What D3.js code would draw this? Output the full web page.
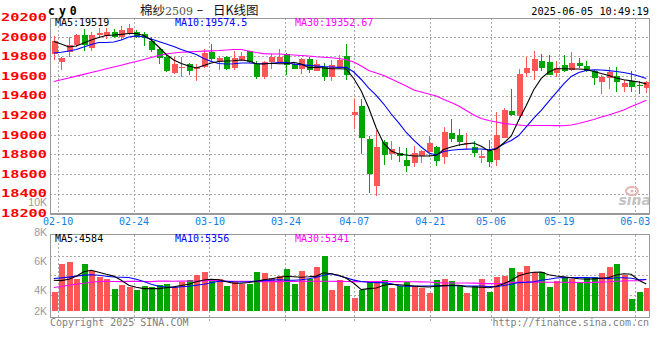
<!DOCTYPE html>
<html>
<head>
<meta charset="utf-8">
<script src="https://cdn.jsdelivr.net/npm/d3@7"></script>
<style>
body { margin: 0; background: #fff; }
svg { display: block; }
</style>
</head>
<body>
<div id="chart"></div>
<script>
// trading days shown on the chart
var dates = ["02-07","02-10","02-11","02-12","02-13","02-14","02-17","02-18","02-19","02-20","02-21",
  "02-24","02-25","02-26","02-27","02-28","03-03","03-04","03-05","03-06","03-07",
  "03-10","03-11","03-12","03-13","03-14","03-17","03-18","03-19","03-20","03-21",
  "03-24","03-25","03-26","03-27","03-28","03-31","04-01","04-02","04-03",
  "04-07","04-08","04-09","04-10","04-11","04-14","04-15","04-16","04-17","04-18",
  "04-21","04-22","04-23","04-24","04-25","04-28","04-29","04-30",
  "05-06","05-07","05-08","05-09","05-12","05-13","05-14","05-15","05-16",
  "05-19","05-20","05-21","05-22","05-23","05-26","05-27","05-28","05-29","05-30",
  "06-03","06-04","06-05"];

var openP = [19820,19740,19845,19912,20020,19885,20014,20010,20050,19995,
  20035,20045,20030,19958,19870,19790,19627,19682,19725,19675,
  19695,19844,19750,19790,19682,19760,19851,19725,19588,19740,
  19742,19827,19725,19675,19776,19655,19688,19590,19682,19806,
  19205,19294,18958,18482,18927,18800,18815,18747,18717,18785,
  18825,18873,18777,19015,18998,18905,18873,18764,18835,18743,
  18971,19243,19192,19633,19654,19755,19742,19630,19715,19664,
  19732,19698,19647,19540,19580,19600,19490,19552,19511,19480];

var highP = [20005,19790,19998,20030,20078,20052,20090,20090,20075,20110,
  20125,20070,20050,19995,19880,19815,19796,19790,19735,19720,
  19870,19926,19800,19800,19850,19840,19855,19755,19755,19827,
  19878,19830,19740,19785,19790,19760,19732,19766,19810,19929,
  19365,19365,18985,19052,18945,18940,18873,18866,18886,18850,
  18988,18885,19077,19161,19059,19016,18940,18845,18947,19236,
  19277,19467,19671,19790,19857,19824,19813,19755,19810,19844,
  19783,19750,19660,19613,19690,19688,19560,19647,19545,19552];

var lowP = [19765,19665,19795,19895,19850,19858,19994,19975,19983,19970,
  20015,19985,19910,19840,19725,19640,19620,19585,19612,19552,
  19680,19742,19665,19665,19665,19755,19735,19570,19570,19670,
  19735,19612,19670,19620,19630,19650,19552,19552,19675,19562,
  19062,18805,18408,18374,18696,18747,18723,18621,18669,18716,
  18777,18686,18703,18930,18886,18853,18771,18716,18676,18683,
  18965,19195,19151,19592,19562,19647,19610,19589,19640,19647,
  19681,19640,19505,19419,19470,19436,19436,19436,19416,19426];

var closeP = [19960,19785,19912,20020,19912,20018,20038,20052,20000,20070,
  20090,19995,19982,19865,19782,19655,19722,19690,19655,19690,
  19835,19776,19782,19675,19783,19806,19740,19590,19740,19790,
  19793,19715,19675,19776,19665,19722,19590,19708,19766,19613,
  19230,18968,18601,18876,18792,18856,18782,18686,18812,18840,
  18914,18733,19033,18954,18930,18914,18812,18784,18726,18998,
  19253,19202,19620,19678,19776,19681,19613,19681,19654,19732,
  19698,19647,19580,19585,19640,19540,19525,19490,19500,19540];

// moving averages as drawn on the chart
var ma5 = [19951,19926,19895,19905,19936,19966,19992,20012,20017,20024,
  20033,20033,20012,19966,19895,19819,19763,19727,19701,19681,
  19707,19732,19747,19752,19755,19763,19752,19724,19722,19730,
  19724,19725,19740,19722,19685,19688,19681,19674,19674,19671,
  19574,19447,19273,19070,18912,18835,18805,18795,18784,18784,
  18784,18791,18850,18876,18896,18908,18917,18883,18835,18855,
  18917,18988,19151,19300,19460,19575,19640,19674,19674,19671,
  19671,19666,19645,19625,19605,19580,19562,19550,19538,19519];

var ma10 = [19834,19841,19854,19869,19895,19921,19941,19941,19946,19966,
  19997,20009,19997,19976,19951,19926,19900,19869,19844,19819,
  19778,19747,19727,19722,19725,19732,19732,19727,19725,19730,
  19737,19739,19721,19716,19708,19701,19695,19691,19688,19688,
  19640,19564,19477,19401,19314,19212,19121,19024,18945,18876,
  18815,18795,18830,18843,18850,18854,18856,18856,18848,18861,
  18907,18943,18993,19080,19170,19250,19340,19430,19520,19595,
  19635,19656,19664,19661,19654,19645,19635,19620,19600,19574.5];

var ma30 = [19544,19561,19580,19598,19616,19635,19654,19673,19691,19710,
  19729,19747,19767,19788,19808,19824,19834,19841,19846,19850,
  19853,19856,19859,19864,19869,19869,19854,19839,19828,19825,
  19824,19819,19813,19808,19803,19796,19791,19785,19778,19765,
  19742,19701,19655,19630,19604,19569,19533,19498,19457,19436,
  19416,19396,19360,19329,19294,19248,19202,19166,19146,19131,
  19117,19108,19100,19093,19095,19095,19095,19094,19093,19100,
  19115,19136,19156,19182,19202,19227,19253,19289,19319,19352.67];

var volume = [3230,7990,8280,5390,7990,6750,5780,5390,3740,4370,
  4080,3570,4200,4030,4370,4590,4080,4980,5220,6070,
  6580,5050,5440,4200,4930,4640,4540,6580,6410,5610,
  5950,7090,4590,6750,5390,7430,9350,3570,5220,4200,
  2210,3570,4880,4880,5220,3910,4300,4930,4250,3910,
  3060,5220,5440,5050,4370,3060,4300,5440,3230,5780,
  5950,7260,6630,7650,6630,6630,4080,5100,5780,5490,
  4930,5560,5780,6460,7480,7990,6070,1990,3180,3860];

var volMa5 = [5220,5170,5390,5900,6660,6920,6580,6240,5930,5220,
  4370,4030,3810,3810,3810,3940,4110,4320,4540,4960,
  5270,5390,5300,4960,4710,4710,4830,5050,5300,5470,
  5680,5900,5810,5730,5810,5930,6490,6320,6070,5560,
  4710,3640,3810,3910,4370,4540,4470,4370,4250,4150,
  4080,4200,4320,4370,4370,4110,4080,4030,3940,4200,
  4620,5220,5980,6360,6580,6630,6150,5950,5810,5640,
  5470,5390,5460,5560,5680,6120,6320,6240,5220,4584];

var volMa10 = [5530,5630,5760,5930,6100,6150,6070,5900,5780,5730,
  5680,5390,5000,4540,4200,4060,4010,4110,4200,4370,
  4540,4790,5050,5050,4960,4930,4960,5080,5170,5250,
  5320,5250,5220,5300,5470,5730,6070,6320,5980,5640,
  5250,5020,4880,4830,4790,4620,4280,4200,4200,4230,
  4250,4270,4300,4320,4280,4250,4250,4250,4150,4150,
  4340,4540,4830,4880,4960,5220,5390,5610,5680,5680,
  5680,5680,5630,5540,5510,5640,5640,5560,5300,5356];

var volMa30 = [4000,4170,4370,4540,4710,4880,5000,5050,5020,5000,
  5030,5050,5020,5000,5080,5070,5050,5080,5100,5100,
  5120,5190,5170,5080,5050,5050,5030,5000,5000,5000,
  5000,5020,5030,5050,5050,5050,5050,5050,5030,5020,
  5000,5000,5000,5000,5000,5000,5000,4980,4960,4950,
  4930,4830,4760,4760,4760,4760,4730,4690,4660,4660,
  4710,4830,4900,4930,4910,4900,4880,4880,4880,4860,
  4850,4830,4860,4910,4960,5050,5100,5150,5170,5341];

var priceTicks = [18200,18400,18600,18800,19000,19200,19400,19600,19800,20000,20200];
var volTicks = [10000,8000,6000,4000,2000];
var dateTicks = ["02-10","02-24","03-10","03-24","04-07","04-21","05-06","05-19","06-03"];

var width = 660, height = 360;
var left = 50, right = 650;
var mainTop = 18, mainBottom = 213.5;
var volTop = 234.5, volBottom = 317.5;
var mono = "DejaVu Sans Mono";
var red = "#ff5757", green = "#00a600";

var svg = d3.select("#chart").append("svg")
    .attr("width", width)
    .attr("height", height)
    .style("font-family", mono);

svg.append("rect").attr("width", width).attr("height", height).attr("fill", "#fff");

// scales
var x = d3.scaleBand().domain(dates).range([left, right]).paddingInner(0.2).paddingOuter(0.1);
var xGrid = d3.scalePoint().domain(dates).range([left, right]);
var y = d3.scaleLinear().domain([18200, 20200]).range([213.3, 17.1]);
var yVol = d3.scaleLinear().domain([0, 13000]).range([311, 234.5]);
var yVolLabel = d3.scaleLinear().domain([2000, 4000, 10000]).range([311, 290, 202]);
var bw = x.bandwidth();
function cx(i) { return x(dates[i]) + bw / 2; }

// gridlines
var grid = svg.append("g")
    .attr("stroke", "#aaa")
    .attr("stroke-dasharray", "2,2")
    .attr("shape-rendering", "crispEdges");

grid.selectAll(".hg").data(priceTicks.slice(1, -1)).enter().append("line")
    .attr("x1", left).attr("x2", right)
    .attr("y1", function(d){ return Math.round(y(d)) + 0.5; })
    .attr("y2", function(d){ return Math.round(y(d)) + 0.5; });

grid.selectAll(".vg").data(dateTicks).enter().append("line")
    .attr("x1", function(d){ return Math.round(xGrid(d)) + 0.5; })
    .attr("x2", function(d){ return Math.round(xGrid(d)) + 0.5; })
    .attr("y1", mainTop).attr("y2", mainBottom);

grid.selectAll(".vg2").data(dateTicks).enter().append("line")
    .attr("x1", function(d){ return Math.round(xGrid(d)) + 0.5; })
    .attr("x2", function(d){ return Math.round(xGrid(d)) + 0.5; })
    .attr("y1", volTop).attr("y2", volBottom + 4);

var volH = volBottom - volTop;
grid.selectAll(".hv").data([0.26, 0.49, 0.73]).enter().append("line")
    .attr("x1", left).attr("x2", right)
    .attr("y1", function(f){ return Math.round(volTop + f * volH) + 0.5; })
    .attr("y2", function(f){ return Math.round(volTop + f * volH) + 0.5; });

// sina watermark
var wm = svg.append("g");
wm.append("ellipse").attr("cx", 632).attr("cy", 191).attr("rx", 6).attr("ry", 4)
    .attr("fill", "none").attr("stroke", "#e8b4b4").attr("stroke-width", 2);
wm.append("circle").attr("cx", 632).attr("cy", 191).attr("r", 1.6).attr("fill", "#e8b4b4");
wm.append("text").attr("x", 651).attr("y", 205).attr("text-anchor", "end")
    .attr("font-family", "DejaVu Sans").attr("font-style", "italic").attr("font-weight", "bold")
    .attr("font-size", 14).attr("fill", "#c4c4c4").text("sina");

// candles
var candles = svg.append("g").attr("shape-rendering", "crispEdges");
dates.forEach(function(d, i){
    var up = closeP[i] >= openP[i];
    var col = up ? red : green;
    var xc = Math.round(cx(i)) + 0.5;
    candles.append("line")
        .attr("x1", xc).attr("x2", xc)
        .attr("y1", y(highP[i])).attr("y2", y(lowP[i]))
        .attr("stroke", col);
    var top = y(Math.max(openP[i], closeP[i]));
    var h = Math.abs(y(openP[i]) - y(closeP[i]));
    candles.append("rect")
        .attr("x", Math.round(cx(i)) - 2.5).attr("width", bw)
        .attr("y", top).attr("height", Math.max(1, h))
        .attr("fill", col);
});

// price moving averages
var line = d3.line()
    .x(function(d, i){ return cx(i); })
    .y(function(d){ return y(d); });
[[ma30, "#ff00ff"], [ma10, "#0000ff"], [ma5, "#000"]].forEach(function(s){
    svg.append("path").datum(s[0])
        .attr("d", line)
        .attr("fill", "none")
        .attr("stroke", s[1])
        .attr("stroke-width", 1.1);
});

// volume bars
var vbars = svg.append("g").attr("shape-rendering", "crispEdges");
vbars.selectAll("rect").data(volume).enter().append("rect")
    .attr("x", function(d, i){ return Math.round(cx(i)) - 2.5; })
    .attr("width", bw)
    .attr("y", function(d){ return yVol(d); })
    .attr("height", function(d){ return yVol(0) - yVol(d); })
    .attr("fill", function(d, i){ return closeP[i] >= openP[i] ? red : green; });

var vline = d3.line()
    .x(function(d, i){ return cx(i); })
    .y(function(d){ return yVol(d); });
[[volMa30, "#ff00ff"], [volMa10, "#0000ff"], [volMa5, "#000"]].forEach(function(s){
    svg.append("path").datum(s[0])
        .attr("d", vline)
        .attr("fill", "none")
        .attr("stroke", s[1])
        .attr("stroke-width", 1.1);
});

// frames
svg.append("rect").attr("x", left + 0.5).attr("y", mainTop + 0.5)
    .attr("width", right - left - 1).attr("height", mainBottom - mainTop)
    .attr("fill", "none").attr("stroke", "#999").attr("stroke-width", 1.3)
    .attr("shape-rendering", "crispEdges");
svg.append("rect").attr("x", left + 0.5).attr("y", volTop)
    .attr("width", right - left - 1).attr("height", volBottom - volTop)
    .attr("fill", "none").attr("stroke", "#999").attr("stroke-width", 1.3)
    .attr("shape-rendering", "crispEdges");

// price axis
var yAxis = svg.append("g").attr("transform", "translate(47,0)")
    .call(d3.axisLeft(y).tickValues(priceTicks).tickSize(0).tickPadding(0).tickFormat(d3.format("d")));
yAxis.select(".domain").remove();
yAxis.selectAll("text")
    .attr("fill", "#f00")
    .attr("font-family", mono)
    .attr("font-weight", "bold")
    .attr("font-size", 11)
    .attr("dy", "0.3em")
    .attr("textLength", 46)
    .attr("lengthAdjust", "spacingAndGlyphs");

// volume axis
var vAxis = svg.append("g").attr("transform", "translate(47,0)")
    .call(d3.axisLeft(yVolLabel).tickValues(volTicks).tickSize(0).tickPadding(0)
        .tickFormat(function(d){ return (d / 1000) + "K"; }));
vAxis.select(".domain").remove();
vAxis.selectAll("text")
    .attr("fill", "#999")
    .attr("font-family", "Liberation Sans")
    .attr("font-size", 10.5)
    .attr("dy", "0.35em");

// date axis
var xAxis = svg.append("g").attr("transform", "translate(0,225)")
    .call(d3.axisBottom(xGrid).tickValues(dateTicks).tickSize(0).tickPadding(0));
xAxis.select(".domain").remove();
xAxis.selectAll("text")
    .attr("fill", "#1080e6")
    .attr("font-family", mono)
    .attr("font-size", 10)
    .attr("dy", 0);

// legends
function legend(yy, vals){
    var cols = ["#000", "#0000ff", "#ff00ff"], xs = [55, 175, 295], names = ["MA5:", "MA10:", "MA30:"];
    vals.forEach(function(v, k){
        svg.append("text").attr("x", xs[k]).attr("y", yy)
            .attr("font-size", 10).attr("fill", cols[k])
            .text(names[k] + v);
    });
}
legend(26.3, [ma5[79], ma10[79], ma30[79]]);
legend(241.5, [volMa5[79], volMa10[79], volMa30[79]]);

// header
svg.append("text").attr("x", 48).attr("y", 15)
    .attr("font-size", 11.5).attr("font-weight", "bold").attr("letter-spacing", 4)
    .attr("fill", "#000").text("cy0");
var title = svg.append("text").attr("y", 14.5)
    .attr("font-family", "Noto Sans CJK SC").attr("font-size", 12.5).attr("fill", "#111");
title.append("tspan").attr("x", 140).text("棉纱");
title.append("tspan").attr("fill", "#555").attr("font-family", "DejaVu Serif").attr("font-size", 11).text("2509");
title.append("tspan").attr("x", 213).text("日K线图");
svg.append("text").attr("x", 200).attr("y", 13.5).attr("text-anchor", "middle")
    .attr("font-family", "DejaVu Sans").attr("font-size", 13).attr("fill", "#111").text("–");

svg.append("text").attr("x", 649).attr("y", 15).attr("text-anchor", "end")
    .attr("font-size", 10.3).attr("fill", "#000").text("2025-06-05 10:49:19");

// footer
svg.append("text").attr("x", 50).attr("y", 326)
    .attr("font-size", 10).attr("fill", "#808080").text("Copyright 2025 SINA.COM");
svg.append("text").attr("x", 649).attr("y", 326).attr("text-anchor", "end")
    .attr("font-size", 10).attr("fill", "#808080").text("http://finance.sina.com.cn");
</script>
</body>
</html>
